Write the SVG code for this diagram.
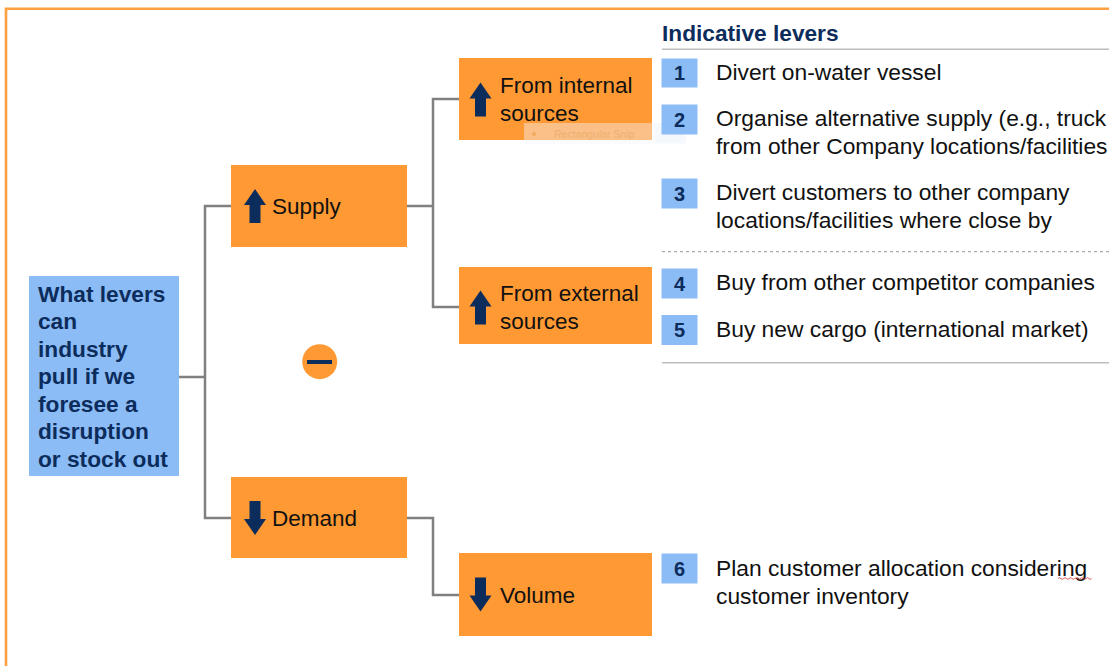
<svg xmlns="http://www.w3.org/2000/svg" width="1109" height="666" viewBox="0 0 1109 666">
  <style>
    .frame { fill: none; stroke: #FF9F3F; stroke-width: 2.6; }
    .box { fill: #FF9933; }
    .root { fill: #8BBCF6; }
    .num { fill: #8BBCF6; }
    .icon { fill: #0C2C5C; }
    .wire { fill: none; stroke: #808080; stroke-width: 2.5; }
    .lbl { font-family: "Liberation Sans", Arial, sans-serif; font-size: 22.5px; fill: #111111; }
    .item { font-family: "Liberation Sans", Arial, sans-serif; font-size: 22.8px; fill: #111111; }
    .rootTxt { font-family: "Liberation Sans", Arial, sans-serif; font-size: 22.7px; font-weight: bold; fill: #0C2C5C; }
    .head { font-family: "Liberation Sans", Arial, sans-serif; font-size: 22.7px; font-weight: bold; fill: #0C2C5C; }
    .numTxt { font-family: "Liberation Sans", Arial, sans-serif; font-size: 20px; font-weight: bold; fill: #0C2C5C; text-anchor: middle; }
    .rule { stroke: #BDBDBD; stroke-width: 1.6; }
    .dash { stroke: #AAAAAA; stroke-width: 1.2; stroke-dasharray: 3 3; }
  </style>
  <defs>
    <polygon id="up" points="0,-17 11,-1 5.5,-1 5.5,17 -5.5,17 -5.5,-1 -11,-1"/>
    <polygon id="down" points="0,17 11,1 5.5,1 5.5,-17 -5.5,-17 -5.5,1 -11,1"/>
  </defs>

  <rect width="1109" height="666" fill="#FFFFFF"/>
  <!-- outer frame -->
  <path class="frame" d="M6,666 V8.7 H1109"/>

  <!-- connectors -->
  <g id="connectors">
    <path class="wire" d="M179,377 H205 M231,206 H205 V518 H231"/>
    <path class="wire" d="M407,206 H433 M459,99 H433 V307 H459"/>
    <path class="wire" d="M407,518 H433 V595 H459"/>
  </g>

  <!-- root question -->
  <g id="root">
    <rect class="root" x="29" y="276" width="150" height="200"/>
    <text class="rootTxt" x="38" y="301.5">What levers</text>
    <text class="rootTxt" x="38" y="329">can</text>
    <text class="rootTxt" x="38" y="356.5">industry</text>
    <text class="rootTxt" x="38" y="384">pull if we</text>
    <text class="rootTxt" x="38" y="411.5">foresee a</text>
    <text class="rootTxt" x="38" y="439">disruption</text>
    <text class="rootTxt" x="38" y="466.5">or stock out</text>
  </g>

  <!-- first level -->
  <g id="supply">
    <rect class="box" x="231" y="165" width="176" height="82"/>
    <use href="#up" class="icon" x="255" y="206"/>
    <text class="lbl" x="272" y="214">Supply</text>
  </g>
  <g id="demand">
    <rect class="box" x="231" y="477" width="176" height="81"/>
    <use href="#down" class="icon" x="255" y="518"/>
    <text class="lbl" x="272" y="526">Demand</text>
  </g>

  <!-- minus badge -->
  <g id="minus">
    <circle cx="319.7" cy="361.7" r="17.5" fill="#FF9933"/>
    <rect x="307" y="360" width="25" height="4" fill="#0C2C5C"/>
  </g>

  <!-- second level -->
  <g id="internal">
    <rect class="box" x="459" y="58" width="193" height="82"/>
    <use href="#up" class="icon" x="480.5" y="99.5"/>
    <text class="lbl" x="500" y="92.5">From internal</text>
    <text class="lbl" x="500" y="121">sources</text>
  </g>
  <g id="external">
    <rect class="box" x="459" y="267" width="193" height="77"/>
    <use href="#up" class="icon" x="480.5" y="307.5"/>
    <text class="lbl" x="500" y="301">From external</text>
    <text class="lbl" x="500" y="329">sources</text>
  </g>
  <g id="volume">
    <rect class="box" x="459" y="553" width="193" height="83"/>
    <use href="#down" class="icon" x="480.5" y="594.5"/>
    <text class="lbl" x="500" y="603">Volume</text>
  </g>

  <!-- snipping tool tooltip left on screen -->
  <g id="snip" opacity="0.7">
    <rect x="524" y="123" width="162" height="21" fill="#F4F7FB" opacity="0.6"/>
    <rect x="655" y="123" width="31" height="20" fill="#EEF3FA" opacity="0.6"/>
    <circle cx="534" cy="134" r="2" fill="#F0B070"/>
    <text x="554" y="137.5" font-family="'Liberation Sans', Arial, sans-serif" font-size="10.5px" fill="#E6B98C">Rectangular Snip</text>
  </g>

  <!-- lever list -->
  <g id="levers">
    <text class="head" x="662" y="41">Indicative levers</text>
    <line class="rule" x1="662" y1="49.3" x2="1109" y2="49.3"/>

    <g id="lever1">
      <rect class="num" x="661.5" y="58.5" width="36" height="29"/>
      <text class="numTxt" x="679.5" y="80">1</text>
      <text class="item" x="716" y="79.5">Divert on-water vessel</text>
    </g>
    <g id="lever2">
      <rect class="num" x="661.5" y="104.5" width="36" height="30"/>
      <text class="numTxt" x="679.5" y="126.5">2</text>
      <text class="item" x="716" y="126">Organise alternative supply (e.g., truck</text>
      <text class="item" x="716" y="153.5">from other Company locations/facilities</text>
    </g>
    <g id="lever3">
      <rect class="num" x="661.5" y="178.5" width="36" height="30"/>
      <text class="numTxt" x="679.5" y="200.5">3</text>
      <text class="item" x="716" y="200">Divert customers to other company</text>
      <text class="item" x="716" y="227.5">locations/facilities where close by</text>
    </g>

    <line class="dash" x1="662" y1="251.7" x2="1109" y2="251.7"/>

    <g id="lever4">
      <rect class="num" x="661.5" y="268.5" width="36" height="30"/>
      <text class="numTxt" x="679.5" y="290.5">4</text>
      <text class="item" x="716" y="290">Buy from other competitor companies</text>
    </g>
    <g id="lever5">
      <rect class="num" x="661.5" y="315" width="36" height="30"/>
      <text class="numTxt" x="679.5" y="337">5</text>
      <text class="item" x="716" y="336.5">Buy new cargo (international market)</text>
    </g>

    <line class="rule" x1="662" y1="362.7" x2="1109" y2="362.7"/>

    <g id="lever6">
      <rect class="num" x="661.5" y="553.5" width="36" height="30"/>
      <text class="numTxt" x="679.5" y="575.5">6</text>
      <text class="item" x="716" y="575.5">Plan customer allocation considering</text>
      <text class="item" x="716" y="603.5">customer inventory</text>
      <!-- spell-check underline -->
      <path d="M1058,578.5 q1.4,-1.6 2.8,0 t2.8,0 t2.8,0 t2.8,0 t2.8,0 t2.8,0 t2.8,0 t2.8,0 t2.8,0 t2.8,0 t2.8,0 t2.8,0" fill="none" stroke="#E03030" stroke-width="0.8"/>
    </g>
  </g>
</svg>
